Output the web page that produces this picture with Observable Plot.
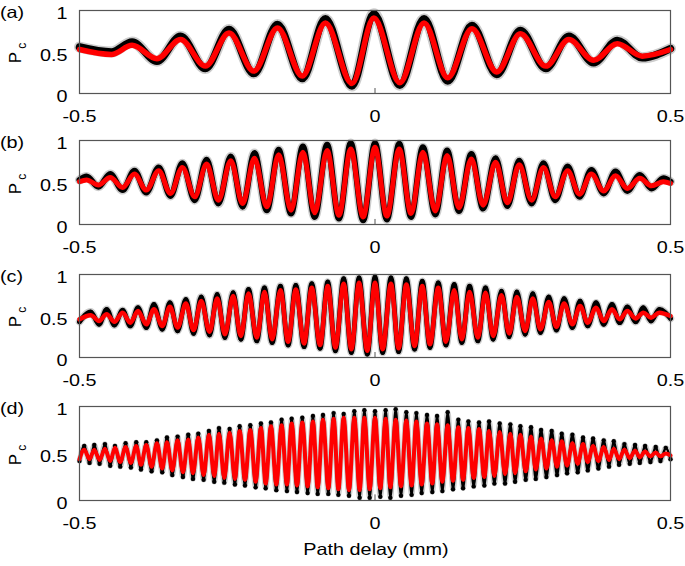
<!DOCTYPE html>
<html>
<head>
<meta charset="utf-8">
<script src="https://cdn.jsdelivr.net/npm/d3@7"></script>
<script src="https://cdn.jsdelivr.net/npm/@observablehq/plot@0.6"></script>
<style>
  body { margin: 0; background: #fff; }
  #fig { position: relative; width: 685px; height: 566px; background: #fff; font-family: "Liberation Sans", Arial, Helvetica, sans-serif; overflow: hidden; }
  #fig svg { position: absolute; left: 0; overflow: visible; }
  .lab { position: absolute; font-size: 16.5px; line-height: 16.5px; color: #000; white-space: nowrap; }
</style>
</head>
<body>
<div id="fig"></div>
<script>
// ---------------- data ----------------
const xTicks = [-0.5, 0, 0.5];
const yTicks = [0, 0.5, 1];
const yTickLabels = ["0", "0.5", "1"];
const xTickLabels = ["-0.5", "0", "0.5"];
const panelLabels = ["(a)", "(b)", "(c)", "(d)"];
const xLabel = "Path delay (mm)";

// Panel (a): extrema of fit and data, left to right
const aX    = [-0.5, -0.446, -0.411, -0.369, -0.329, -0.287, -0.247, -0.205, -0.165, -0.123, -0.084, -0.039, -0.002, 0.042, 0.083, 0.123, 0.164, 0.206, 0.246, 0.289, 0.328, 0.370, 0.410, 0.452, 0.5];
const aFit  = [0.53, 0.47, 0.58, 0.42, 0.65, 0.33, 0.73, 0.27, 0.79, 0.21, 0.85, 0.12, 0.91, 0.13, 0.85, 0.19, 0.78, 0.26, 0.72, 0.33, 0.65, 0.40, 0.60, 0.45, 0.53];
const aData = [0.56, 0.50, 0.62, 0.39, 0.69, 0.30, 0.77, 0.24, 0.83, 0.18, 0.90, 0.09, 0.96, 0.10, 0.90, 0.15, 0.82, 0.23, 0.76, 0.30, 0.69, 0.37, 0.64, 0.43, 0.54];

// Panel (b)
const bX    = [-0.5, -0.488, -0.468, -0.448, -0.427, -0.407, -0.387, -0.366, -0.346, -0.326, -0.305, -0.285, -0.265, -0.244, -0.224, -0.204, -0.183, -0.163, -0.142, -0.122, -0.102, -0.081, -0.061, -0.041, -0.020, 0, 0.020, 0.041, 0.061, 0.081, 0.102, 0.122, 0.142, 0.163, 0.183, 0.204, 0.224, 0.244, 0.265, 0.285, 0.305, 0.326, 0.346, 0.366, 0.387, 0.407, 0.427, 0.448, 0.468, 0.488, 0.5];
const bFit  = [0.51, 0.53, 0.47, 0.56, 0.44, 0.60, 0.41, 0.64, 0.37, 0.68, 0.33, 0.72, 0.29, 0.76, 0.25, 0.79, 0.21, 0.83, 0.17, 0.86, 0.14, 0.88, 0.11, 0.90, 0.09,
               0.92,
               0.10, 0.90, 0.13, 0.86, 0.16, 0.82, 0.20, 0.78, 0.23, 0.74, 0.26, 0.71, 0.29, 0.68, 0.33, 0.64, 0.36, 0.60, 0.40, 0.58, 0.43, 0.55, 0.46, 0.51, 0.49];
const bData = [0.53, 0.57, 0.45, 0.60, 0.41, 0.64, 0.38, 0.68, 0.34, 0.73, 0.29, 0.77, 0.25, 0.81, 0.21, 0.85, 0.17, 0.89, 0.13, 0.93, 0.09, 0.95, 0.07, 0.97, 0.05,
               0.97,
               0.06, 0.96, 0.09, 0.92, 0.12, 0.88, 0.16, 0.84, 0.19, 0.79, 0.22, 0.76, 0.25, 0.73, 0.29, 0.69, 0.33, 0.65, 0.37, 0.63, 0.40, 0.59, 0.43, 0.55, 0.51];

// Panel (c): peaks and troughs
const cPeakX    = [-0.481, -0.454, -0.427, -0.401, -0.374, -0.347, -0.320, -0.294, -0.267, -0.240, -0.214, -0.187, -0.160, -0.134, -0.107, -0.080, -0.053, -0.027, 0, 0.027, 0.053, 0.080, 0.107, 0.134, 0.160, 0.187, 0.214, 0.240, 0.267, 0.294, 0.320, 0.347, 0.374, 0.401, 0.427, 0.454, 0.481];
const cPeakFit  = [0.51, 0.52, 0.54, 0.56, 0.58, 0.61, 0.65, 0.68, 0.71, 0.74, 0.77, 0.79, 0.81, 0.82, 0.84, 0.86, 0.89, 0.90, 0.90, 0.89, 0.88, 0.86, 0.84, 0.81, 0.79, 0.78, 0.75, 0.73, 0.71, 0.67, 0.65, 0.62, 0.60, 0.58, 0.56, 0.54, 0.54];
const cPeakData = [0.55, 0.58, 0.57, 0.60, 0.64, 0.66, 0.70, 0.73, 0.76, 0.78, 0.82, 0.84, 0.86, 0.87, 0.89, 0.91, 0.95, 0.96, 0.97, 0.96, 0.95, 0.92, 0.90, 0.88, 0.86, 0.84, 0.80, 0.79, 0.77, 0.73, 0.71, 0.68, 0.66, 0.64, 0.61, 0.60, 0.58];
const cTroughX    = [-0.5, -0.467, -0.441, -0.414, -0.387, -0.360, -0.334, -0.307, -0.280, -0.254, -0.227, -0.200, -0.174, -0.147, -0.120, -0.093, -0.067, -0.040, -0.013, 0.013, 0.040, 0.067, 0.093, 0.120, 0.147, 0.174, 0.200, 0.227, 0.254, 0.280, 0.307, 0.334, 0.360, 0.387, 0.414, 0.441, 0.467, 0.5];
const cTroughFit  = [0.46, 0.44, 0.43, 0.42, 0.40, 0.38, 0.36, 0.33, 0.31, 0.28, 0.26, 0.24, 0.22, 0.19, 0.17, 0.15, 0.12, 0.10, 0.08, 0.10, 0.11, 0.14, 0.16, 0.19, 0.22, 0.24, 0.26, 0.29, 0.32, 0.34, 0.37, 0.40, 0.42, 0.44, 0.46, 0.47, 0.48, 0.50];
const cTroughData = [0.43, 0.40, 0.39, 0.38, 0.36, 0.34, 0.32, 0.29, 0.27, 0.24, 0.22, 0.20, 0.18, 0.15, 0.13, 0.11, 0.08, 0.06, 0.04, 0.06, 0.07, 0.10, 0.12, 0.15, 0.18, 0.20, 0.22, 0.25, 0.28, 0.30, 0.33, 0.36, 0.38, 0.40, 0.42, 0.43, 0.44, 0.47];

// Panel (d): peaks and troughs
const dPeakX    = [-0.492, -0.475, -0.457, -0.440, -0.422, -0.404, -0.387, -0.369, -0.352, -0.334, -0.316, -0.299, -0.281, -0.264, -0.246, -0.229, -0.211, -0.193, -0.176, -0.158, -0.141, -0.123, -0.105, -0.088, -0.070, -0.053, -0.035, -0.018, 0, 0.018, 0.035, 0.053, 0.070, 0.088, 0.105, 0.123, 0.141, 0.158, 0.176, 0.193, 0.211, 0.229, 0.246, 0.264, 0.281, 0.299, 0.316, 0.334, 0.352, 0.369, 0.387, 0.404, 0.422, 0.440, 0.457, 0.475, 0.492];
const dPeakFit  = [0.54, 0.54, 0.55, 0.56, 0.57, 0.58, 0.59, 0.61, 0.62, 0.64, 0.65, 0.67, 0.70, 0.71, 0.72, 0.74, 0.75, 0.77, 0.79, 0.80, 0.82, 0.83, 0.84, 0.86, 0.87, 0.88, 0.88, 0.88,
                   0.88,
                   0.87, 0.86, 0.85, 0.84, 0.82, 0.81, 0.80, 0.78, 0.77, 0.76, 0.74, 0.73, 0.71, 0.70, 0.68, 0.66, 0.64, 0.63, 0.61, 0.60, 0.58, 0.57, 0.55, 0.54, 0.53, 0.52, 0.51, 0.50];
const dPeakData = [0.58, 0.59, 0.60, 0.58, 0.61, 0.62, 0.62, 0.64, 0.67, 0.68, 0.70, 0.71, 0.74, 0.77, 0.76, 0.79, 0.80, 0.82, 0.83, 0.86, 0.87, 0.88, 0.90, 0.91, 0.93, 0.92, 0.95, 0.96,
                   0.95,
                   0.96, 0.97, 0.94, 0.93, 0.91, 0.90, 0.94, 0.86, 0.84, 0.83, 0.84, 0.82, 0.81, 0.79, 0.78, 0.75, 0.74, 0.71, 0.70, 0.67, 0.66, 0.64, 0.63, 0.60, 0.59, 0.58, 0.57, 0.56];
const dTroughX    = [-0.5, -0.483, -0.466, -0.448, -0.431, -0.413, -0.396, -0.378, -0.360, -0.343, -0.325, -0.308, -0.290, -0.272, -0.255, -0.237, -0.220, -0.202, -0.185, -0.167, -0.149, -0.132, -0.114, -0.097, -0.079, -0.062, -0.044, -0.026, -0.009,
                     0.009, 0.026, 0.044, 0.062, 0.079, 0.097, 0.114, 0.132, 0.149, 0.167, 0.185, 0.202, 0.220, 0.237, 0.255, 0.272, 0.290, 0.308, 0.325, 0.343, 0.360, 0.378, 0.396, 0.413, 0.431, 0.448, 0.466, 0.483, 0.5];
const dTroughFit  = [0.44, 0.44, 0.43, 0.42, 0.41, 0.40, 0.38, 0.36, 0.34, 0.32, 0.30, 0.29, 0.27, 0.26, 0.24, 0.23, 0.22, 0.20, 0.18, 0.17, 0.17, 0.16, 0.15, 0.14, 0.13, 0.12, 0.11, 0.11, 0.12,
                     0.13, 0.14, 0.15, 0.16, 0.17, 0.18, 0.20, 0.21, 0.22, 0.24, 0.25, 0.26, 0.28, 0.29, 0.31, 0.33, 0.34, 0.36, 0.37, 0.39, 0.41, 0.42, 0.43, 0.44, 0.45, 0.46, 0.47, 0.47, 0.48];
const dTroughData = [0.42, 0.40, 0.39, 0.37, 0.36, 0.35, 0.33, 0.31, 0.30, 0.27, 0.25, 0.23, 0.22, 0.20, 0.19, 0.17, 0.16, 0.14, 0.13, 0.11, 0.10, 0.09, 0.08, 0.07, 0.07, 0.06, 0.05, 0.03, 0.03,
                     0.04, 0.03, 0.05, 0.06, 0.08, 0.09, 0.10, 0.12, 0.13, 0.15, 0.16, 0.18, 0.18, 0.20, 0.22, 0.23, 0.25, 0.27, 0.29, 0.30, 0.32, 0.34, 0.36, 0.38, 0.39, 0.40, 0.41, 0.42, 0.44];

// ---------------- build tables ----------------
function rowsOf(X, F, D) { return X.map((x, i) => ({x, fit: F[i], data: D[i]})); }
function merged(pX, pF, pD, tX, tF, tD) {
  return rowsOf(pX, pF, pD).concat(rowsOf(tX, tF, tD)).sort((a, b) => a.x - b.x);
}
const panels = [
  {rows: rowsOf(aX, aFit, aData), top: 10, h: 83, gw: 11, bw: 7.5, rw: 5.5, r: 2.4},
  {rows: rowsOf(bX, bFit, bData), top: 140, h: 84, gw: 9, bw: 6, rw: 5, r: 2.3},
  {rows: merged(cPeakX, cPeakFit, cPeakData, cTroughX, cTroughFit, cTroughData), top: 274, h: 83, gw: 7.5, bw: 4.8, rw: 4.5, r: 2.2},
  {rows: merged(dPeakX, dPeakFit, dPeakData, dTroughX, dTroughFit, dTroughData), top: 406, h: 94, gw: 5.5, bw: 2.5, rw: 4, r: 2.2}
];

const SX = 1.2; // horizontal stretch of the lettering
const fig = document.getElementById("fig");
const MT = 10, MB = 36, ML = 79, MR = 15;

function stretch(svg) {
  svg.querySelectorAll('g[aria-label$="tick label"] text').forEach(t => {
    const tr = t.getAttribute("transform");
    if (tr) t.setAttribute("transform", tr + ` scale(${SX},1)`);
    else {
      const x = +(t.getAttribute("x") || 0), y = +(t.getAttribute("y") || 0);
      t.setAttribute("x", 0); t.setAttribute("y", 0);
      t.setAttribute("transform", `translate(${x},${y}) scale(${SX},1)`);
    }
  });
}

panels.forEach((p, i) => {
  const svg = Plot.plot({
    width: 685, height: MT + p.h + MB,
    marginTop: MT, marginBottom: MB, marginLeft: ML, marginRight: MR,
    style: {fontFamily: '"Liberation Sans", Arial, sans-serif', fontSize: "16.5px", background: "transparent", color: "#000", overflow: "visible"},
    x: {domain: [-0.5, 0.5]},
    y: {domain: [0, 1]},
    marks: [
      Plot.line(p.rows, {x: "x", y: "data", stroke: "#cdcdcd", strokeWidth: p.gw, curve: "monotone-x"}),
      Plot.line(p.rows, {x: "x", y: "data", stroke: "#000", strokeWidth: p.bw, curve: "monotone-x"}),
      Plot.dot(p.rows, {x: "x", y: "data", r: p.r, fill: "#000", stroke: "none"}),
      Plot.line(p.rows, {x: "x", y: "fit", stroke: "#ff0000", strokeWidth: p.rw, curve: "monotone-x"}),
      Plot.ruleX(xTicks, {y1: 0, y2: 0.06, stroke: "#555", strokeWidth: 1}),
      Plot.frame({stroke: "#555", strokeWidth: 1.2}),
      Plot.axisX(xTicks, {tickSize: 0, tickPadding: 17, fontSize: 16.5, tickFormat: (d) => xTickLabels[xTicks.indexOf(d)], label: null}),
      Plot.axisY(yTicks, {tickSize: 0, tickPadding: 12, fontSize: 16.5, dy: 3.5, tickFormat: (d) => yTickLabels[yTicks.indexOf(d)], label: null})
    ]
  });
  svg.style.top = (p.top - MT) + "px";
  stretch(svg);
  fig.appendChild(svg);

  // panel letter
  const L = document.createElement("div");
  L.className = "lab";
  L.textContent = panelLabels[i];
  L.style.left = "0px";
  L.style.top = (p.top + 2 - 8.25) + "px";
  L.style.transformOrigin = "0 50%";
  L.style.transform = `scaleX(${SX})`;
  fig.appendChild(L);

  // y label P_c
  const Y = document.createElement("div");
  Y.className = "lab";
  Y.style.fontSize = "17px";
  Y.style.lineHeight = "17px";
  Y.innerHTML = 'P<span style="font-size:12px;position:relative;top:5px;margin-left:3px">c</span>';
  Y.style.left = "16px";
  Y.style.top = (p.top + p.h / 2 + 1.5) + "px";
  Y.style.transform = "translate(-50%,-50%) rotate(-90deg)";
  fig.appendChild(Y);
});

// x label
const XL = document.createElement("div");
XL.className = "lab";
XL.textContent = xLabel;
XL.style.left = "376px";
XL.style.top = "549px";
XL.style.transform = `translate(-50%,-50%) scaleX(${SX})`;
fig.appendChild(XL);
</script>
</body>
</html>
